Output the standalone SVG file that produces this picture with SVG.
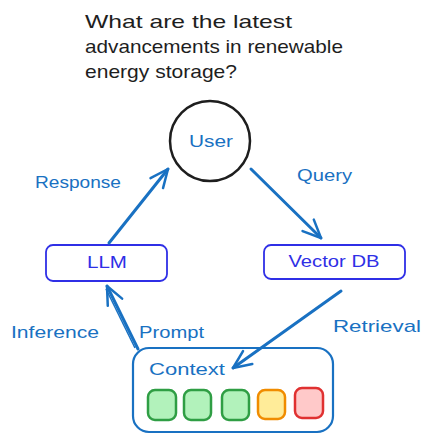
<svg xmlns="http://www.w3.org/2000/svg" width="431" height="442" viewBox="0 0 431 442">
  <defs>
    <style>
      .t { font-family: "Liberation Sans", Arial, sans-serif; }
      .title { fill: #1e1e1e; font-size: 19px; }
      .lbl { fill: #1971c2; font-size: 17px; }
      .node { fill: #2f2fe6; font-size: 17px; }
      .conn { stroke: #1971c2; stroke-width: 3; fill: none; stroke-linecap: round; }
      .box { fill: #ffffff; stroke: #2f2fe6; stroke-width: 1.8; }
      .g { fill: #b2f2bb; stroke: #2f9e44; stroke-width: 2.5; }
      .y { fill: #ffec99; stroke: #f08c00; stroke-width: 2.5; }
      .r { fill: #ffc9c9; stroke: #e03131; stroke-width: 2.5; }
    </style>
    <marker id="ah" viewBox="0 0 22 22" refX="20" refY="11" markerWidth="22" markerHeight="22" markerUnits="userSpaceOnUse" orient="auto">
      <path d="M2,3 L20,11 L2,19" fill="none" stroke="#1971c2" stroke-width="2.5" stroke-linecap="round" stroke-linejoin="round"/>
    </marker>
  </defs>

  <g id="question">
    <text class="t title" x="85" y="28" textLength="207" lengthAdjust="spacingAndGlyphs">What are the latest</text>
    <text class="t title" x="85" y="53" textLength="258" lengthAdjust="spacingAndGlyphs">advancements in renewable</text>
    <text class="t title" x="85" y="78" textLength="152" lengthAdjust="spacingAndGlyphs">energy storage?</text>
  </g>

  <g id="user">
    <circle cx="210" cy="141" r="40" fill="#ffffff" stroke="#1e1e1e" stroke-width="2.5"/>
    <text class="t lbl" x="211" y="147" text-anchor="middle" font-size="18" textLength="44" lengthAdjust="spacingAndGlyphs">User</text>
  </g>

  <g id="llm">
    <rect class="box" x="46" y="245" width="121" height="36" rx="7"/>
    <text class="t node" x="107" y="268" text-anchor="middle" textLength="40" lengthAdjust="spacingAndGlyphs">LLM</text>
  </g>

  <g id="vectordb">
    <rect class="box" x="264" y="245" width="141" height="34" rx="7"/>
    <text class="t node" x="334" y="267" text-anchor="middle" textLength="91" lengthAdjust="spacingAndGlyphs">Vector DB</text>
  </g>

  <g id="context">
    <rect x="133" y="348" width="200" height="84" rx="16" fill="#ffffff" stroke="#1971c2" stroke-width="2.2"/>
    <text class="t lbl" x="149" y="375" font-size="18" textLength="76" lengthAdjust="spacingAndGlyphs">Context</text>
    <rect class="g" x="148" y="390" width="28" height="30" rx="7"/>
    <rect class="g" x="184" y="390" width="27" height="30" rx="7"/>
    <rect class="g" x="222" y="390" width="27" height="30" rx="7"/>
    <rect class="y" x="258" y="390" width="27" height="29" rx="7"/>
    <rect class="r" x="295" y="388" width="28" height="30" rx="7"/>
  </g>

  <g id="connectors">
    <path class="conn" d="M109,243 L168,169" marker-end="url(#ah)"/>
    <path class="conn" d="M251,169 L321,238" marker-end="url(#ah)"/>
    <path class="conn" d="M341,291 L233,368" marker-end="url(#ah)"/>
    <path class="conn" d="M138,349 L107,286" marker-end="url(#ah)"/>
    <path d="M135,348 L106,289" stroke="#1971c2" stroke-width="1.5" fill="none"/>
    <text class="t lbl" x="35" y="188" textLength="86" lengthAdjust="spacingAndGlyphs">Response</text>
    <text class="t lbl" x="297" y="181" textLength="55" lengthAdjust="spacingAndGlyphs">Query</text>
    <text class="t lbl" x="11" y="338" textLength="88" lengthAdjust="spacingAndGlyphs">Inference</text>
    <text class="t lbl" x="139" y="338" textLength="65" lengthAdjust="spacingAndGlyphs">Prompt</text>
    <text class="t lbl" x="333" y="332" textLength="88" lengthAdjust="spacingAndGlyphs">Retrieval</text>
  </g>
</svg>
